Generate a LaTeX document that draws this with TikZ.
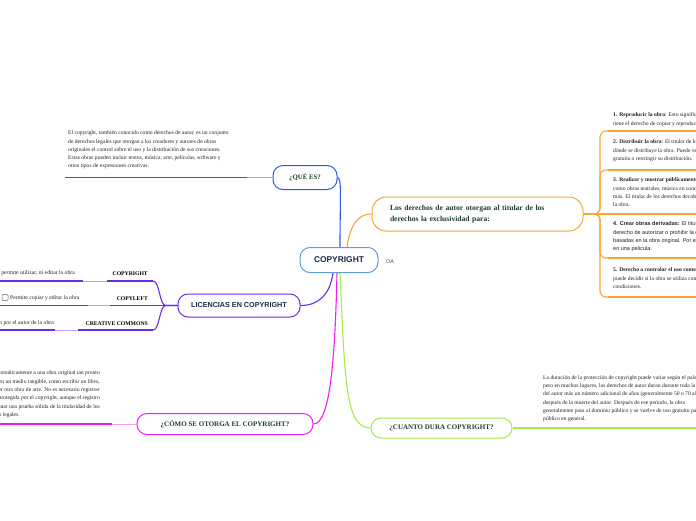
\documentclass[tikz,border=0pt]{standalone}
\usepackage{fontspec}
\setmainfont{Liberation Serif}
\newfontfamily\sansf{Liberation Sans}
\definecolor{blueC}{HTML}{2D5BE3}
\definecolor{cpb}{HTML}{5E9EDB}
\definecolor{orangeC}{HTML}{F7A634}
\definecolor{purpleC}{HTML}{6B2BEF}
\definecolor{magC}{HTML}{EE1FEE}
\definecolor{greenC}{HTML}{A3EC48}
\definecolor{dgreen}{HTML}{1F3D2C}
\definecolor{navy}{HTML}{1B2845}
\definecolor{txtc}{HTML}{222222}
\begin{document}
\begin{tikzpicture}[x=1pt,y=-1pt,
  box/.style={draw, rounded corners=10pt, line width=1pt, fill=white, inner sep=2pt},
  txt/.style={inner sep=0pt, align=left, font=\fontsize{5.6}{8.3}\selectfont, text=txtc, execute at begin node=\strut},
  dsc/.style={inner sep=0pt, font=\fontsize{5.7}{7}\selectfont, text=txtc},
  lbl/.style={inner sep=0pt, font=\bfseries\fontsize{5.7}{7}\selectfont, text=black},
  conn/.style={line width=1.1pt},
  ul/.style={line width=1.4pt},
  lk/.style={line width=0.8pt}]
\useasboundingbox (0,0) rectangle (696,520);
\clip (0,0) rectangle (696,520);

% main nodes
\node[box, draw=cpb, minimum width=78, minimum height=25, font=\sansf\bfseries\fontsize{8.4}{9}\selectfont, text=navy] (cp) at (339,260) {COPYRIGHT};
\node[inner sep=0pt, font=\sansf\fontsize{5.5}{6}\selectfont, text=black!70] (oa) at (390,262) {OA};
\node[box, draw=blueC, minimum width=64, minimum height=24, font=\bfseries\fontsize{6.8}{8}\selectfont, text=dgreen] (que) at (305,177.5) {¿QUÉ ES?};
\node[box, draw=orangeC, rounded corners=14pt, minimum width=211, minimum height=34, text width=175, align=left, inner sep=0pt, font=\bfseries\fontsize{7.6}{11.5}\selectfont, text=dgreen] (ob) at (477.5,214) {Los derechos de autor otorgan al titular de los\\derechos la exclusividad para:};
\node[box, draw=purpleC, minimum width=122, minimum height=23, font=\sansf\bfseries\fontsize{7.2}{8}\selectfont, text=navy] (lic) at (239,305.5) {LICENCIAS EN COPYRIGHT};
\node[box, draw=magC, minimum width=176, minimum height=21, font=\bfseries\fontsize{7}{8}\selectfont, text=dgreen] (como) at (225,424) {¿CÓMO SE OTORGA EL COPYRIGHT?};
\node[box, draw=greenC, minimum width=141, minimum height=20, font=\bfseries\fontsize{7}{8}\selectfont, text=dgreen] (dura) at (441.5,428) {¿CUANTO DURA COPYRIGHT?};

% main connectors
\draw[conn, blueC] ([xshift=1pt]cp.north) .. controls (340,200) and (342,177.5) .. (que.east);
\draw[conn, orangeC] ([xshift=8pt]cp.north) .. controls (350,228) and (356,214) .. (ob.west);
\draw[conn, purpleC] ([xshift=-6pt]cp.south) .. controls (330,295) and (318,305.5) .. (lic.east);
\draw[conn, magC] ([xshift=-2pt]cp.south) .. controls (335,360) and (330,424) .. (como.east);
\draw[conn, greenC] ([xshift=1pt]cp.south) .. controls (345,380) and (345,428) .. (dura.west);

% QUE ES branch
\coordinate (qd) at (247,177.5);
\coordinate (qe) at (65,177.5);
\draw[lk, blueC!50] (que.west) -- (qd);
\draw[ul, blueC] (qd) -- (qe);
\node[txt, anchor=north west] (qt) at (68,130.7) {El copyright, también conocido como derechos de autor, es un conjunto\\de derechos legales que otorgan a los creadores y autores de obras\\originales el control sobre el uso y la distribución de sus creaciones.\\Estas obras pueden incluir textos, música, arte, películas, software y\\otros tipos de expresiones creativas.};

% right branch items
\coordinate (r1) at (612,131);
\coordinate (r2) at (612,170);
\coordinate (r3) at (612,214);
\coordinate (r4) at (612,258);
\coordinate (r5) at (612,297);
\foreach \r in {r1,r2,r4,r5}{
  \draw[conn, orangeC, rounded corners=6pt] (ob.east) -- (600,214) |- (\r);
}
\draw[conn, orangeC] (ob.east) -- (r3);
\foreach \r in {r1,r2,r3,r4,r5}{
  \draw[ul, orangeC] ([xshift=-4pt]\r) -- ([xshift=100pt]\r);
}
\node[txt, anchor=north west] (i1) at (613,112.7) {\textbf{1. Reproducir la obra}: Esto significa que el titular de los derechos\\tiene el derecho de copiar y reproducir la obra.};
\node[txt, anchor=north west] (i2) at (613,139.7) {\textbf{2. Distribuir la obra}: El titular de los derechos puede decidir cómo y\\dónde se distribuye la obra. Puede venderla, regalarla de forma\\gratuita o restringir su distribución.};
\node[txt, anchor=north west] (i3) at (613,177.7) {\textbf{3. Realizar y mostrar públicamente la obra}: Esto se aplica a obras\\como obras teatrales, música en concierto, películas y\\más. El titular de los derechos decide dónde y cuándo se presenta\\la obra.};
\node[txt, font=\sansf\fontsize{5.5}{8.3}\selectfont, anchor=north west] (i4) at (613,221.7) {\textbf{4. Crear obras derivadas:} El titular de los derechos tiene el\\derecho de autorizar o prohibir la creación de obras\\basadas en la obra original. Por ejemplo, adaptar un libro\\en una película.};
\node[txt, anchor=north west] (i5) at (613,267.7) {\textbf{5. Derecho a controlar el uso comercial}: El titular\\puede decidir si la obra se utiliza con fines comerciales y bajo qué\\condiciones.};

% licencias branch
\coordinate (b1) at (153,281);
\coordinate (b2) at (153,305.5);
\coordinate (b3) at (153,330);
\draw[conn, purpleC] (lic.west) -- (166,305.5) .. controls (159,305.5) and (160,281) .. (b1);
\draw[conn, purpleC] (lic.west) -- (b2);
\draw[conn, purpleC] (lic.west) -- (166,305.5) .. controls (159,305.5) and (160,330) .. (b3);
\draw[ul, purpleC] (b1) -- (107,281);
\draw[lk, purpleC!45] (107,281) -- (83,281);
\draw[ul, purpleC] (83,281) -- (0,281);
\draw[ul, purpleC] (b2) -- (110,305.5);
\draw[lk, purpleC!45] (110,305.5) -- (88,305.5);
\draw[ul, purpleC] (88,305.5) -- (0,305.5);
\draw[ul, purpleC] (b3) -- (78,330);
\draw[lk, purpleC!45] (78,330) -- (55,330);
\draw[ul, purpleC] (55,330) -- (0,330);
\node[lbl, anchor=base east] (l1) at (148,275.5) {COPYRIGHT};
\node[lbl, anchor=base east] (l2) at (148,300.5) {COPYLEFT};
\node[lbl, anchor=base east] (l3) at (148,325.5) {CREATIVE COMMONS};
\node[dsc, anchor=base east] (d1) at (75,274.5) {No permite utilizar, ni editar la obra};
\node[dsc, anchor=base west] (d2) at (10,299.5) {Permite copiar y editar la obra};
\node[dsc, anchor=base east] (d3) at (54,324.5) {Se puede usar según lo indicado por el autor de la obra};
\node[draw=black!60, rounded corners=1pt, minimum size=6pt, inner sep=0pt, line width=0.5pt] (chk) at (5,297.5) {};

% como branch
\draw[lk, magC!45] (como.west) -- (112,424);
\draw[ul, magC] (112,424) -- (0,424);
\node[txt, align=right, anchor=north east] (ct) at (100,370.7) {El copyright se otorga automáticamente a una obra original tan pronto\\como se fija en un medio tangible, como escribir un libro,\hspace*{7pt}\\pintar un cuadro o cualquier otra obra de arte. No es necesario registrar\hspace*{2pt}\\una obra para que esté protegida por el copyright, aunque el registro\hspace*{3pt}\\puede proporcionar una prueba sólida de la titularidad de los\\derechos en caso de disputas legales.\hspace*{80pt}};

% dura branch
\coordinate (gd) at (532,428);
\draw[conn, greenC] (dura.east) -- (gd);
\draw[ul, greenC] (gd) -- (696,428);
\node[txt, anchor=north west] (dt) at (543,375.2) {La duración de la protección de copyright puede variar según el país,\\pero en muchos lugares, los derechos de autor duran durante toda la vida\\del autor más un número adicional de años (generalmente 50 o 70 años)\\después de la muerte del autor. Después de ese periodo, la obra\\generalmente pasa al dominio público y se vuelve de uso gratuito para el\\público en general.};
\end{tikzpicture}
\end{document}
